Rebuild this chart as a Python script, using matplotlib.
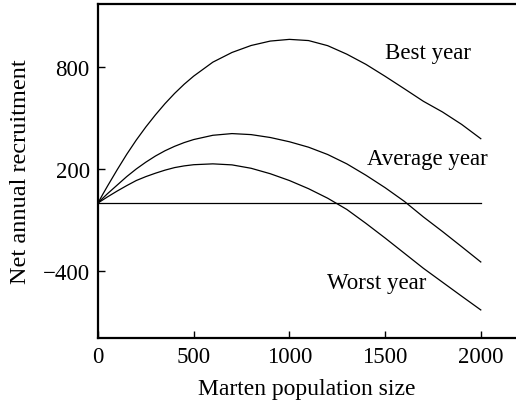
import matplotlib
matplotlib.use("Agg")
import matplotlib.pyplot as plt

population = [0, 25, 50, 100, 150, 200, 250, 300, 350, 400, 450, 500, 600, 700,
              800, 900, 1000, 1100, 1200, 1300, 1400, 1500, 1600, 1700, 1800,
              1900, 2000]
best_year = [0, 51, 100, 195, 286, 370, 447, 518, 584, 644, 698, 746, 828, 885,
             926, 952, 962, 955, 925, 875, 815, 745, 672, 598, 535, 462, 378]
average_year = [0, 28, 55, 105, 155, 200, 240, 276, 307, 333, 355, 373, 398, 408,
                402, 385, 360, 328, 285, 230, 163, 90, 10, -82, -168, -257, -347]
worst_year = [0, 18, 36, 70, 102, 132, 155, 175, 193, 208, 218, 225, 230, 224,
              204, 172, 132, 84, 28, -38, -120, -206, -295, -384, -466, -548, -629]
labels = ["Best year", "Average year", "Worst year"]
label_pos = [(1500, 882), (1406, 263), (1197, -468)]
xticks = [0, 500, 1000, 1500, 2000]
yticks = [-400, 200, 800]

plt.rcParams['font.family'] = ['Liberation Serif', 'DejaVu Serif']
plt.rcParams['axes.unicode_minus'] = True

fig = plt.figure(figsize=(5.16, 4.02), dpi=100)
ax = fig.add_axes([98/516, 63/402, 418/516, 334/402])

for series in (best_year, average_year, worst_year):
    ax.plot(population, series, color='black', lw=0.9)
ax.plot([population[0], population[-1]], [0, 0], color='black', lw=0.9)

for txt, (x, y) in zip(labels, label_pos):
    ax.text(x, y, txt, ha='left', va='center', fontsize=16.5)

ax.set_xlim(0, 2184)
ax.set_ylim(-794, 1170)
ax.set_xticks(xticks)
ax.set_yticks(yticks)
ax.set_yticklabels([str(v).replace('-', '\u2212') for v in yticks])
ax.tick_params(direction='in', length=5, width=1, labelsize=16.5, pad=6)
ax.spines['right'].set_visible(False)
for s in ('left', 'bottom', 'top'):
    ax.spines[s].set_linewidth(1.6)
ax.set_xlabel("Marten population size", fontsize=17, labelpad=8)
ax.set_ylabel("Net annual recruitment", fontsize=17.5, labelpad=8)

fig.savefig("out.png", dpi=100)
